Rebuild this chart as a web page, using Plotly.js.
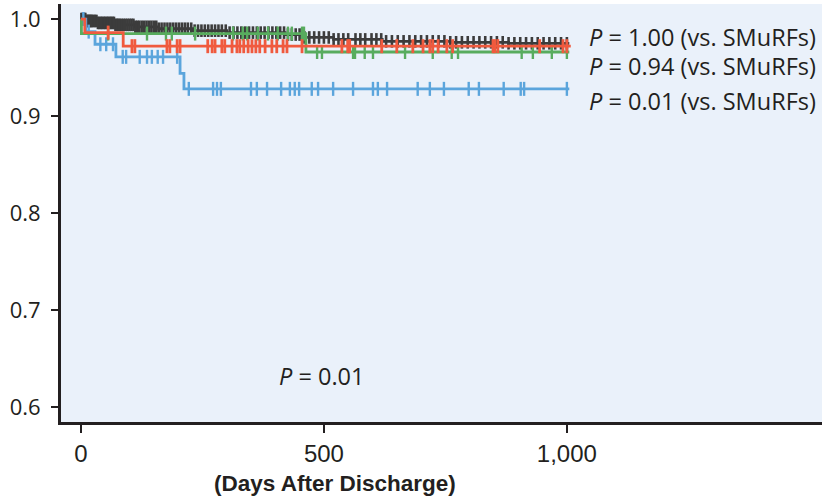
<!DOCTYPE html>
<html>
<head>
<meta charset="utf-8">
<script src="https://cdn.plot.ly/plotly-3.0.1.min.js"></script>
<style>html,body{margin:0;padding:0;background:#fff;}#chart{width:822px;height:498px;}</style>
</head>
<body>
<div id="chart"></div>
<script>
// ---- Data ----
const grayTimes = [0, 10, 35, 70, 110, 160, 230, 300, 420, 455, 520, 620, 760, 880, 1005];
const graySurv  = [1.0, 0.998, 0.996, 0.994, 0.992, 0.990, 0.988, 0.986, 0.984, 0.981, 0.979, 0.977, 0.976, 0.975, 0.975];
const grayCens  = [1, 3, 5, 7, 9, 11, 13, 15, 17, 19, 21, 23, 26, 29, 32, 35, 38, 41, 44, 47, 50, 53, 56, 59, 62, 65, 68, 71, 74, 77, 80, 84, 88, 92, 96, 100, 104, 108, 112, 116, 120, 125, 130, 135, 140, 145, 150, 155, 160, 166, 172, 178, 184, 190, 196, 202, 208, 214, 220, 227, 234, 241, 248, 255, 262, 269, 276, 283, 290, 298, 306, 314, 322, 330, 338, 346, 354, 362, 370, 378, 386, 394, 402, 410, 418, 426, 434, 442, 450, 460, 470, 480, 490, 500, 510, 520, 530, 540, 550, 565, 575, 585, 598, 608, 618, 628, 640, 652, 664, 676, 688, 700, 712, 724, 736, 748, 760, 772, 784, 796, 808, 820, 832, 844, 856, 868, 880, 892, 904, 916, 928, 940, 952, 964, 976, 988, 1000];

const greenTimes = [0, 1, 463, 1005];
const greenSurv  = [1.0, 0.985, 0.966, 0.966];
const greenCens  = [56, 136, 175, 187, 235, 313, 333, 342, 364, 385, 405, 426, 434, 455, 459, 486, 496, 560, 564, 584, 601, 667, 724, 763, 776, 907, 930, 969, 1000];

const redTimes = [0, 8, 87, 1008];
const redSurv  = [1.0, 0.986, 0.972, 0.972];
const redCens  = [56, 105, 111, 177, 183, 198, 204, 261, 270, 276, 290, 296, 311, 321, 327, 335, 344, 352, 360, 368, 379, 393, 403, 416, 424, 455, 537, 549, 553, 619, 650, 683, 704, 718, 724, 735, 753, 765, 848, 852, 858, 944, 992, 1000];

const blueTimes = [0, 10, 29, 72, 204, 212, 1005];
const blueSurv  = [1.0, 0.987, 0.974, 0.961, 0.944, 0.928, 0.928];
const blueCens  = [5, 16, 40, 52, 66, 86, 93, 121, 136, 146, 158, 169, 198, 222, 272, 280, 288, 350, 362, 383, 412, 430, 440, 449, 475, 488, 519, 560, 601, 611, 630, 693, 718, 747, 798, 819, 870, 905, 912, 1000];

const xTickVals = [0, 500, 1000];
const xTickText = ['0', '500', '1,000'];
const yTickVals = [0.6, 0.7, 0.8, 0.9, 1.0];
const yTickText = ['0.6', '0.7', '0.8', '0.9', '1.0'];
const xTitle = '<b>(Days After Discharge)</b>';

const pLabels = ['<i>P</i> = 1.00 (vs. SMuRFs)', '<i>P</i> = 0.94 (vs. SMuRFs)', '<i>P</i> = 0.01 (vs. SMuRFs)'];
const pLabelY = [0.9814, 0.9515, 0.9155];
const overallP = '<i>P</i> = 0.01';

// ---- helpers ----
function stepAt(times, surv, t) {
  let v = surv[0];
  for (let i = 0; i < times.length; i++) { if (times[i] <= t) v = surv[i]; }
  return v;
}

const colors = {gray: '#3c3c3c', green: '#58ac5e', red: '#f05a3e', blue: '#5ba5dc'};

function curve(times, surv, color) {
  return {x: times, y: surv, mode: 'lines', line: {shape: 'hv', color: color, width: 2.8}, hoverinfo: 'skip', showlegend: false};
}
function cens(times, surv, c, color, size, w) {
  return {x: c, y: c.map(t => stepAt(times, surv, t)), mode: 'markers',
    marker: {symbol: 'line-ns', size: size, line: {color: color, width: w}}, hoverinfo: 'skip', showlegend: false};
}

const data = [
  curve(grayTimes, graySurv, colors.gray),
  cens(grayTimes, graySurv, grayCens, colors.gray, 9, 2.6),
  curve(blueTimes, blueSurv, colors.blue),
  cens(blueTimes, blueSurv, blueCens, colors.blue, 10, 2.4),
  curve(greenTimes, greenSurv, colors.green),
  cens(greenTimes, greenSurv, greenCens, colors.green, 10, 2.4),
  curve(redTimes, redSurv, colors.red),
  cens(redTimes, redSurv, redCens, colors.red, 10, 2.8)
];

const annFont = {family: 'Open Sans, sans-serif', size: 23.5, color: '#231f20'};
const annotations = pLabels.map((t, i) => ({
  text: t, xref: 'paper', x: 1, xanchor: 'right', xshift: -4,
  yref: 'y', y: pLabelY[i], yanchor: 'middle', showarrow: false, font: annFont
}));
annotations.push({text: overallP, xref: 'x', x: 496, yref: 'y', y: 0.632, xanchor: 'center', yanchor: 'middle', showarrow: false, font: annFont});
annotations.push({text: xTitle, xref: 'paper', x: 0.36, xanchor: 'center', yref: 'paper', y: -0.148, yanchor: 'middle', showarrow: false,
  font: {family: 'Liberation Sans, Arial, sans-serif', size: 22.5, color: '#231f20'}});

const layout = {
  width: 822, height: 498,
  margin: {l: 61, r: 0, t: 4, b: 76},
  paper_bgcolor: '#ffffff',
  plot_bgcolor: '#eaf1fa',
  showlegend: false,
  xaxis: {
    range: [-41, 1525], showgrid: false, zeroline: false,
    showline: true, linecolor: '#231f20', linewidth: 3,
    ticks: 'outside', ticklen: 8, tickwidth: 2, tickcolor: '#231f20',
    tickvals: xTickVals, ticktext: xTickText,
    tickfont: {family: 'Liberation Sans, Arial, sans-serif', size: 24, color: '#231f20'}
  },
  yaxis: {
    range: [0.5845, 1.0155], showgrid: false, zeroline: false,
    showline: true, linecolor: '#231f20', linewidth: 3,
    ticks: 'outside', ticklen: 7, tickwidth: 2, tickcolor: '#231f20',
    tickvals: yTickVals, ticktext: yTickText,
    ticklabelstandoff: 6,
    tickfont: {family: 'Open Sans, sans-serif', size: 22, color: '#231f20'}
  },
  annotations: annotations
};

Plotly.newPlot('chart', data, layout, {displayModeBar: false, staticPlot: true});
</script>
</body>
</html>
